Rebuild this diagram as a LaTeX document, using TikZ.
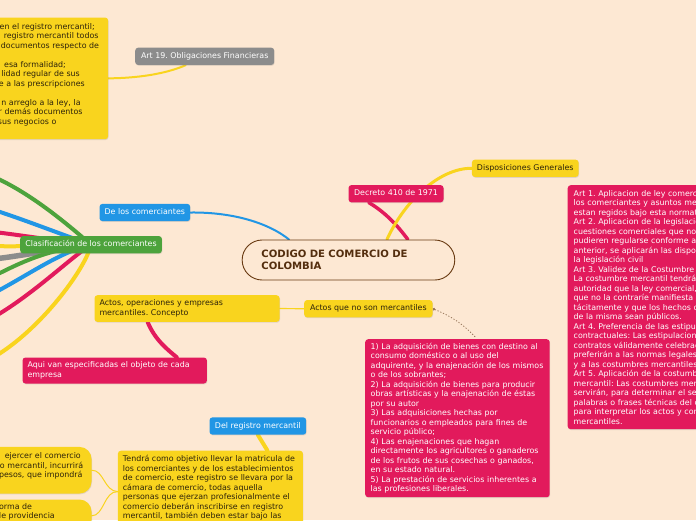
\documentclass[tikz,border=0pt]{standalone}
\usepackage{fontspec}
\setmainfont{DejaVu Sans}
\usetikzlibrary{shadows,calc,arrows.meta}
\frenchspacing

\definecolor{bgpeach}{RGB}{253,232,211}
\definecolor{mapyellow}{RGB}{249,212,30}
\definecolor{mapred}{RGB}{226,26,92}
\definecolor{mapblue}{RGB}{33,150,229}
\definecolor{mapgreen}{RGB}{77,163,60}
\definecolor{mapgray}{RGB}{140,140,140}
\definecolor{mapbrown}{RGB}{105,58,18}
\definecolor{darktext}{RGB}{45,35,10}

\pgfdeclarelayer{paper}
\pgfdeclarelayer{links}
\pgfsetlayers{paper,links,main}

% a line whose right end sits at a given place (text cut by the left edge)
\newcommand{\cutl}[2]{\makebox[#1pt][r]{#2}}

\tikzset{
  topic/.style={rounded corners=3pt, inner xsep=5pt,
    font=\fontsize{7.9}{9.5}\selectfont,
    drop shadow={shadow xshift=0.5pt, shadow yshift=-0.8pt, opacity=0.22}},
  ytopic/.style={topic, fill=mapyellow, text=darktext},
  rtopic/.style={topic, fill=mapred, text=white},
  btopic/.style={topic, fill=mapblue, text=white},
  gtopic/.style={topic, fill=mapgreen, text=white},
  greytopic/.style={topic, fill=mapgray, text=white},
  oneline/.style={anchor=west, minimum height=17.3pt, text height=5.8pt,
    text depth=1.6pt, inner ysep=0pt},
  manyline/.style={anchor=north west, align=left},
  branch/.style={line width=#1, line cap=round},
  dotlink/.style={draw=mapbrown!70, line width=0.8pt,
    dash pattern=on 1.2pt off 1.8pt, {Circle[length=2.6pt]}-, shorten >=2pt}
}

\begin{document}
\begin{tikzpicture}[x=1pt,y=-1pt]
  \useasboundingbox (0,0) rectangle (696,520);
  \begin{pgfonlayer}{paper}
    \fill[bgpeach] (0,0) rectangle (696,520);
  \end{pgfonlayer}

  % central topic
  \node[draw=mapbrown, line width=0.9pt, fill=bgpeach, rounded corners=20pt,
    anchor=west, minimum width=212.6pt, minimum height=40pt, text width=174pt,
    inner xsep=19.3pt, align=left, text=mapbrown!80!black,
    font=\bfseries\fontsize{10.1}{12}\selectfont]
    (main) at (241.7,260) {CODIGO DE COMERCIO DE\\COLOMBIA};

  % one-line topics
  \node[greytopic, oneline, minimum width=139pt] (art19) at (135,56.3) {Art 19. Obligaciones Financieras};
  \node[rtopic, oneline, minimum width=95pt] (decreto) at (348.3,193.7) {Decreto 410 de 1971};
  \node[ytopic, oneline, minimum width=106.7pt] (dispo) at (471.7,168.3) {Disposiciones Generales};
  \node[btopic, oneline, minimum width=90.7pt] (delos) at (99.3,212.5) {De los comerciantes};
  \node[gtopic, oneline, minimum width=141.7pt] (clasif) at (20,244.7) {Clasificación de los comerciantes};
  \node[ytopic, oneline, minimum width=128.3pt] (actosno) at (304,308.7) {Actos que no son mercantiles};
  \node[btopic, oneline, minimum width=96.7pt] (delreg) at (209.3,426) {Del registro mercantil};

  % text boxes
  \node[ytopic, manyline, text width=175pt, minimum height=26.7pt] (actos) at (94.3,295)
    {Actos, operaciones y empresas\\mercantiles. Concepto};
  \node[rtopic, manyline, text width=174.4pt, minimum height=26pt] (aqui) at (22.3,357.3)
    {Aqui van especificadas el objeto de cada\\empresa};
  \node[rtopic, manyline, text width=173.5pt, inner xsep=5.5pt, minimum height=158pt] (nomerc) at (365,339)
    {1) La adquisición de bienes con destino al\\
     consumo doméstico o al uso del\\
     adquirente, y la enajenación de los mismos\\
     o de los sobrantes;\\
     2) La adquisición de bienes para producir\\
     obras artísticas y la enajenación de éstas\\
     por su autor\\
     3) Las adquisiciones hechas por\\
     funcionarios o empleados para fines de\\
     servicio público;\\
     4) Las enajenaciones que hagan\\
     directamente los agricultores o ganaderos\\
     de los frutos de sus cosechas o ganados,\\
     en su estado natural.\\
     5) La prestación de servicios inherentes a\\
     las profesiones liberales.};
  \node[rtopic, manyline, text width=200pt, inner xsep=6pt, minimum height=244pt] (arts) at (567.5,185)
    {Art 1. Aplicacion de ley comercial\\
     los comerciantes y asuntos mercantiles\\
     estan regidos bajo esta normatividad\\
     Art 2. Aplicacion de la legislación\\
     cuestiones comerciales que no\\
     pudieren regularse conforme a la\\
     anterior, se aplicarán las disposiciones de\\
     la legislación civil\\
     Art 3. Validez de la Costumbre\\
     La costumbre mercantil tendrá la\\
     autoridad que la ley comercial,\\
     que no la contraríe manifiesta\\
     tácitamente y que los hechos constitutivos\\
     de la misma sean públicos.\\
     Art 4. Preferencia de las estipulaciones\\
     contractuales: Las estipulaciones de los\\
     contratos válidamente celebrados\\
     preferirán a las normas legales\\
     y a las costumbres mercantiles\\
     Art 5. Aplicación de la costumbre\\
     mercantil: Las costumbres mercantiles\\
     servirán, para determinar el sentido de las\\
     palabras o frases técnicas del comercio\\
     para interpretar los actos y convenios\\
     mercantiles.};
  \node[ytopic, manyline, text width=175pt, inner ysep=4.5pt] (registro) at (117.7,450.5)
    {Tendrá como objetivo llevar la matricula de\\
     los comerciantes y de los establecimientos\\
     de comercio, este registro se llevara por la\\
     cámara de comercio, todas aquella\\
     personas que ejerzan profesionalmente el\\
     comercio deberán inscribirse en registro\\
     mercantil, también deben estar bajo las\\
     \mbox{}};

  % boxes cut by the left edge
  \node[ytopic, anchor=north east, align=left, text width=110pt, inner xsep=2pt,
    minimum height=121.7pt] (oblig) at (108.3,17.3)
    {\cutl{98.7}{en el registro mercantil;}\\
     \cutl{102.4}{registro mercantil todos}\\
     \cutl{103}{documentos respecto de}\\
     \mbox{}\\
     \cutl{69.7}{esa formalidad;}\\
     \cutl{83.7}{lidad regular de sus}\\
     \cutl{88.7}{e a las prescripciones}\\
     \mbox{}\\
     \cutl{84.5}{n arreglo a la ley, la}\\
     \cutl{86.4}{r demás documentos}\\
     \cutl{60.4}{sus negocios o}\\
     \mbox{}};
  \node[ytopic, rounded corners=12pt, anchor=north east, align=left, text width=100pt,
    inner xsep=4pt, minimum height=46.6pt] (sancion) at (91.7,446.7)
    {\cutl{93.3}{ejercer el comercio}\\
     \cutl{95.6}{o mercantil, incurrirá}\\
     \cutl{95}{pesos, que impondrá}\\
     \mbox{}};
  \node[ytopic, rounded corners=12pt, anchor=north east, align=left, text width=100pt,
    inner xsep=4pt, inner ysep=3.8pt] (providencia) at (91.7,499.3)
    {\cutl{44.6}{forma de}\\
     \cutl{67.3}{a de providencia}\\
     \mbox{}};

  % free ends of the branches leaving on the left
  \coordinate (l1) at (-6,177);
  \coordinate (l2) at (-6,210);
  \coordinate (l3) at (-6,232);
  \coordinate (l4) at (-6,246);
  \coordinate (l5) at (-6,259);
  \coordinate (l6) at (-6,276);
  \coordinate (l7) at (-6,293);
  \coordinate (l8) at (-6,317);
  \coordinate (l9) at (-6,357);

  \begin{pgfonlayer}{links}
    \draw[branch=2pt, mapblue] (delos.east) .. controls (235,212) and (270,224) .. (main.161);
    \draw[branch=3.5pt, mapred] (decreto.198) .. controls (385,212) and (398,226) .. (main.19);
    \draw[branch=3pt, mapyellow] (dispo.west) .. controls (440,168) and (405,200) .. (main.28);
    \draw[branch=2pt, mapyellow] (oblig.east) .. controls (145,78) and (170,72) .. (art19.205);
    \draw[branch=4pt, mapred] (actos.199) .. controls (155,340) and (168,350) .. (aqui.12);
    \draw[branch=1.2pt, mapyellow] (actos.east) -- (actosno.west);
    \draw[dotlink] (actosno.east) to[bend left=12] (nomerc.76);
    \draw[branch=4pt, mapyellow] (delreg.south) -- ($(registro.north)+(57,0)$);
    \draw[branch=1pt, mapyellow] (registro.west) .. controls (104,491) and (104,470) .. (sancion.east);
    \draw[branch=1pt, mapyellow] (registro.west) .. controls (104,491) and (104,516) .. (providencia.east);
    % branches of the classification
    \draw[branch=4pt, mapgreen] (clasif.center) .. controls (65,222) and (30,193) .. (l1);
    \draw[branch=4pt, mapblue] (clasif.center) .. controls (55,232) and (25,220) .. (l2);
    \draw[branch=4pt, mapred] (clasif.center) .. controls (50,240) and (20,235) .. (l3);
    \draw[branch=4pt, mapyellow] (clasif.center) .. controls (50,245) and (20,247) .. (l4);
    \draw[branch=5.5pt, mapgray] (clasif.center) .. controls (50,250) and (20,256) .. (l5);
    \draw[branch=4pt, mapgreen] (clasif.center) .. controls (45,250) and (20,263) .. (l6);
    \draw[branch=4pt, mapblue] (clasif.center) .. controls (60,252) and (30,274) .. (l7);
    \draw[branch=4pt, mapred] (clasif.center) .. controls (70,258) and (35,293) .. (l8);
    \draw[branch=4pt, mapyellow] (clasif.center) .. controls (85,270) and (40,330) .. (l9);
  \end{pgfonlayer}
\end{tikzpicture}
\end{document}
